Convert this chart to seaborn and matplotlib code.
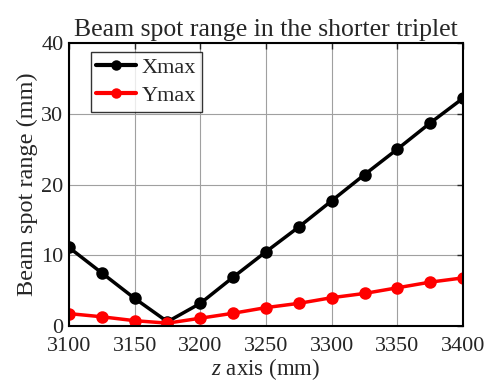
import matplotlib
matplotlib.use("Agg")
import matplotlib.pyplot as plt
import seaborn as sns
import pandas as pd

z_mm = [3100, 3125, 3150, 3175, 3200, 3225, 3250, 3275, 3300, 3325, 3350, 3375, 3400]
xmax = [11.1, 7.5, 3.9, 0.6, 3.2, 6.9, 10.5, 14.0, 17.7, 21.4, 25.0, 28.7, 32.2]
ymax = [1.75, 1.3, 0.75, 0.4, 1.1, 1.8, 2.6, 3.2, 4.0, 4.6, 5.4, 6.2, 6.8]
series_names = ["Xmax", "Ymax"]
colors = ["black", "red"]

df = pd.DataFrame({"z": z_mm * 2,
                   "val": xmax + ymax,
                   "series": [series_names[0]] * len(z_mm) + [series_names[1]] * len(z_mm)})

sns.set_style("white")
plt.rcParams['font.family'] = ['Liberation Serif', 'DejaVu Serif']
plt.rcParams['mathtext.fontset'] = 'custom'
plt.rcParams['mathtext.it'] = 'Liberation Serif:italic'
plt.rcParams['mathtext.rm'] = 'Liberation Serif'

fig = plt.figure(figsize=(4.91, 3.81), dpi=100)
ax = fig.add_axes([0.1405, 0.1444, 0.8025, 0.7426])

sns.lineplot(data=df, x="z", y="val", hue="series", palette=colors, marker="o",
             markersize=7.5, linewidth=2.5, markeredgewidth=1.5, ax=ax, legend=True)
for l in ax.lines:
    l.set_markeredgecolor(l.get_color())

ax.set_xlim(3100, 3400)
ax.set_ylim(0, 40)
ax.set_xticks(range(3100, 3401, 50))
ax.set_yticks(range(0, 41, 10))
ax.grid(True, color="#a0a0a0", linewidth=0.8)
ax.tick_params(direction="in", top=True, right=True, labelsize=16, length=4, width=1)
ax.tick_params(axis="x", pad=8)
ax.tick_params(axis="y", pad=4)
for s in ax.spines.values():
    s.set_linewidth(1.5)
    s.set_color("black")
ax.set_xlabel(r"$z$ axis (mm)", fontsize=16.5, labelpad=0)
ax.set_ylabel("Beam spot range (mm)", fontsize=17.5, labelpad=2)
ax.set_title("Beam spot range in the shorter triplet", fontsize=18.5, pad=5)

leg = ax.legend(loc="upper left", bbox_to_anchor=(0.055, 0.97), fontsize=16, frameon=True,
                fancybox=False, edgecolor="black", handlelength=1.8, borderpad=0.25,
                labelspacing=0.35, handletextpad=0.25, borderaxespad=0)
leg.get_frame().set_linewidth(1.0)
for h in leg.legend_handles:
    h.set_markersize(6)
    h.set_linewidth(3)

fig.savefig("out.png", dpi=100)
